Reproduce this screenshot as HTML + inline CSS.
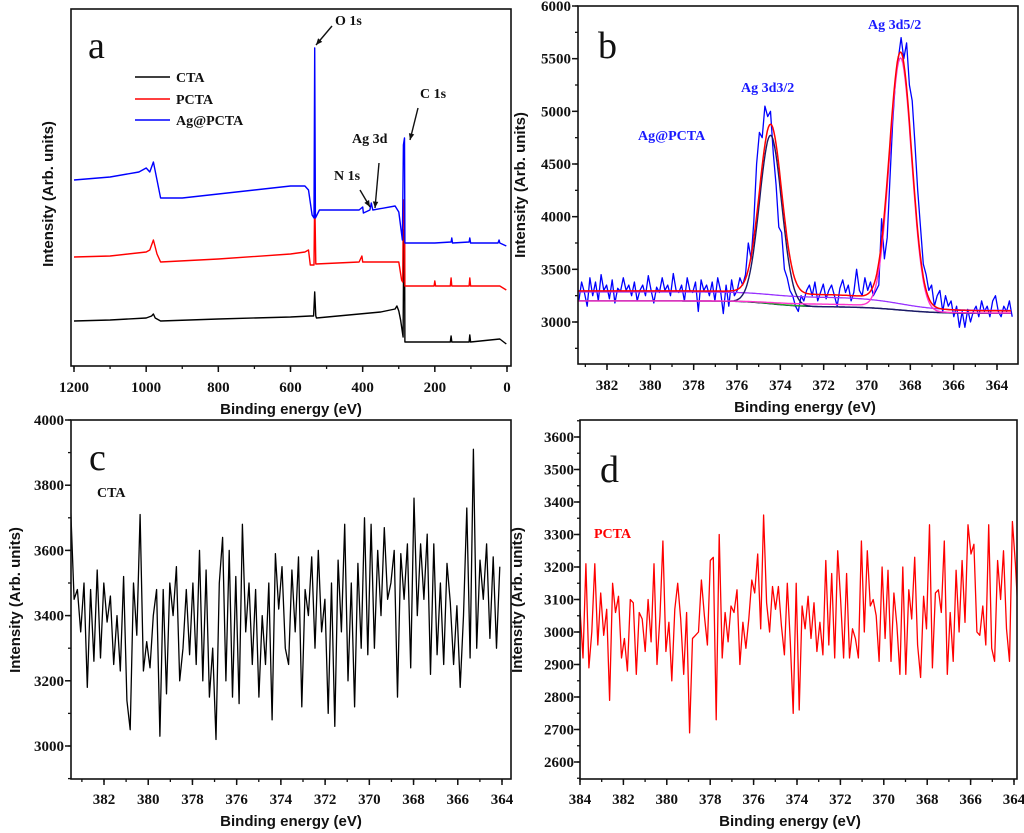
<!DOCTYPE html>
<html><head><meta charset="utf-8"><style>
html,body{margin:0;padding:0;background:#fff;}
svg{display:block;}
.tk{font-family:"Liberation Serif",serif;font-weight:bold;font-size:15px;fill:#111;}
.at{font-family:"Liberation Sans",sans-serif;font-weight:bold;font-size:15px;fill:#111;}
.an{font-family:"Liberation Serif",serif;font-weight:bold;font-size:14px;}
.pl{font-family:"Liberation Serif",serif;font-size:38px;fill:#111;}
</style></head><body>
<svg id="fig" width="1024" height="833" viewBox="0 0 1024 833" xmlns="http://www.w3.org/2000/svg"></svg>
<script>
// ---------- Panel a data (survey, arbitrary intensity units) ----------
const aBlueE=[1200,1100,1020,1000,990,980,970,960,900,800,700,600,560,550,540,535,533,531,520,410,400,398,380,376,372,310,300,290,287,284,283,200,155,153,151,105,103,101,25,22,20,2];
const aBlueI=[186,189,194,198,194,204,186,168,168,172,176,180,180,176,151,148,318,148,156,156,159,153,156,163,156,160,154,126,221,228,123,123,124,128,123,124,128,123,123,126,123,120];
const aRedE=[1200,1100,1000,990,980,970,960,800,600,560,550,545,535,533,530,410,402,400,398,300,292,289,287,284,283,202,200,198,157,155,153,105,103,101,20,2];
const aRedI=[109,110,114,116,126,112,104,107,112,114,116,101,101,171,102,104,110,104,104,104,86,84,166,166,80,80,85,80,80,88,80,80,88,80,80,76];
const aBlackE=[1200,1100,1000,985,980,975,960,800,600,545,536,533,530,528,350,310,305,300,295,288,286,284,283,157,155,153,105,103,101,20,2];
const aBlackI=[45,46,48,50,52,48,45,47,49,50,50,74,50,48,54,57,60,55,46,29,136,136,24,24,30,24,24,31,24,27,22];
const aTicks=[1200,1000,800,600,400,200,0];
// ---------- Panel b data ----------
const bRaw=[3200,3380,3280,3150,3420,3250,3380,3200,3450,3300,3350,3220,3400,3180,3320,3290,3420,3300,3350,3250,3380,3200,3300,3350,3250,3440,3300,3180,3330,3280,3420,3300,3350,3250,3460,3300,3280,3350,3200,3420,3300,3280,3380,3100,3400,3300,3350,3250,3380,3200,3420,3300,3080,3350,3150,3400,3250,3300,3420,
3350,3450,3750,3600,3950,4500,4800,4750,5050,4950,5000,4600,4300,3900,3850,3500,3420,3300,3250,3150,3100,3250,3200,
3300,3350,3250,3380,3200,3280,3360,3220,3300,3350,3250,3150,3320,3400,3280,3350,3200,3280,3500,3300,3250,3420,3300,3380,3250,
3300,3350,3980,3600,3800,4350,4900,5300,5500,5700,5500,5650,5250,5100,4700,4250,3900,3550,3450,3300,3350,3150,3250,3300,3100,3250,3150,3200,3050,
3150,2950,3100,2950,3120,3000,3100,3150,3050,3200,3100,3150,3050,3200,3250,3100,3050,3150,3100,3200,3050];
const bPeakCenters=[374.45,368.45];
const bPeakHeights=[1600,2380];
const bPeakFwhm=[1.2,1.2];
const bBgPurple=[3285,3235,3110]; // left, mid, right levels
const bBgNavy=[3200,3145,3082];
const bYTicks=[3000,3500,4000,4500,5000,5500,6000];
const bXTicks=[382,380,378,376,374,372,370,368,366,364];
// ---------- Panel c data ----------
const cVals=[3720,3450,3480,3350,3500,3180,3480,3260,3540,3270,3500,3380,3460,3250,3400,3230,3520,3140,3050,3500,3340,3710,3230,3320,3240,3400,3480,3030,3480,3160,3500,3400,3550,3200,3300,3480,3280,3500,3250,3600,3200,3540,3150,3300,3020,3500,3640,3200,3600,3150,3520,3130,3680,3350,3500,3250,3480,3150,3400,3250,3500,3080,3590,3420,3550,3300,3250,3540,3350,3580,3120,3480,3400,3580,3300,3600,3350,3450,3100,3500,3060,3570,3350,3680,3200,3500,3120,3560,3300,3700,3280,3680,3300,3600,3400,3670,3450,3500,3600,3150,3590,3450,3620,3240,3760,3400,3620,3450,3650,3220,3620,3280,3500,3250,3560,3440,3250,3430,3180,3400,3730,3270,3910,3300,3570,3450,3620,3330,3580,3300,3550];
const cYTicks=[3000,3200,3400,3600,3800,4000];
const cXTicks=[382,380,378,376,374,372,370,368,366,364];
// ---------- Panel d data ----------
const dVals=[3070,2920,3210,2890,3000,3210,2960,3120,2990,3070,2790,3150,3060,3110,2920,2980,2880,3100,3090,2870,3060,3040,2940,3100,2970,3210,2900,3050,3280,2940,3030,2850,3070,3150,3040,2870,3060,2690,2980,2990,3000,3160,3050,2960,3220,3230,2730,3300,2920,3060,2970,3080,3060,3130,2900,3030,2950,3040,3160,3120,3240,3010,3360,3090,3000,3140,3070,3140,3020,2930,3150,2970,2750,3150,2760,3080,3010,3110,2980,3090,2940,3030,2930,3220,2960,3180,2920,3250,3100,2920,3180,2920,3010,2980,2920,3280,3000,3250,3080,3100,3050,2910,3200,2980,3190,2910,3120,3020,2870,3200,2870,3130,3040,3230,2960,2860,3110,3010,3330,2890,3120,3130,3060,3280,2870,3060,2910,3190,3000,3220,3030,3330,3240,3270,3000,2990,3080,2960,3330,2950,2910,3220,3100,3250,3010,2910,3340,3210,3040];
const dYTicks=[2600,2700,2800,2900,3000,3100,3200,3300,3400,3500,3600];
const dXTicks=[384,382,380,378,376,374,372,370,368,366,364];

const NS="http://www.w3.org/2000/svg";
const svg=document.getElementById('fig');
function mk(tag,attrs,parent){const e=document.createElementNS(NS,tag);for(const k in attrs)e.setAttribute(k,attrs[k]);(parent||svg).appendChild(e);return e;}
function lin(d0,d1,r0,r1){return v=>r0+(v-d0)*(r1-r0)/(d1-d0);}
function txt(x,y,s,cls,anchor,parent,name,extra){const t=mk('text',Object.assign({x:x,y:y,class:cls,'text-anchor':anchor||'start'},extra||{}),parent);t.textContent=s;


return t;}
function path(pts,color,w,parent,name){const d=pts.map((p,i)=>(i?'L':'M')+p[0].toFixed(1)+' '+p[1].toFixed(1)).join('');const p=mk('path',{d:d,fill:'none',stroke:color,'stroke-width':w,'stroke-linejoin':'round'},parent);


return p;}
function frame(g,x0,y0,x1,y1,name){const r=mk('rect',{x:x0,y:y0,width:x1-x0,height:y1-y0,fill:'none',stroke:'#111','stroke-width':1.6},g);

}
function xAxis(g,X,y1,ticks,minorStep,dmin,dmax,labelY){
  for(let v=Math.ceil(Math.min(dmin,dmax)/minorStep)*minorStep;v<=Math.max(dmin,dmax)+1e-9;v+=minorStep){const x=X(v);mk('line',{x1:x,x2:x,y1:y1,y2:y1+3,stroke:'#111','stroke-width':1.3},g);}
  ticks.forEach(v=>{const x=X(v);mk('line',{x1:x,x2:x,y1:y1,y2:y1+6,stroke:'#111','stroke-width':1.5},g);txt(x,labelY,String(v),'tk','middle',g,'x-tick-label');});
}
function yAxis(g,Y,x0,ticks,minorStep,dmin,dmax,labelX){
  for(let v=Math.ceil(dmin/minorStep)*minorStep;v<=dmax+1e-9;v+=minorStep){const y=Y(v);mk('line',{x1:x0,x2:x0-3,y1:y,y2:y,stroke:'#111','stroke-width':1.3},g);}
  ticks.forEach(v=>{const y=Y(v);mk('line',{x1:x0,x2:x0-6,y1:y,y2:y,stroke:'#111','stroke-width':1.5},g);txt(labelX,y+5,String(v),'tk','end',g,'y-tick-label');});
}
function ylabel(g,x,y){const t=txt(x,y,'Intensity (Arb. units)','at','middle',g,'y-axis-title',{transform:`rotate(-90 ${x} ${y})`});}
function group(name){const g=mk('g',{});return g;}

// ===== Panel a =====
(function(){
const g=group('panel-a');
const X=lin(1200,0,74,507), Y=lin(0,357,366,9);
const clip=mk('clipPath',{id:'ca'},g);mk('rect',{x:71,y:9,width:440,height:357},clip);
const lg=mk('g',{'clip-path':'url(#ca)'},g);
path(aBlackE.map((e,i)=>[X(e),Y(aBlackI[i])]),'#000',1.4,lg,'cta-survey-line');
path(aRedE.map((e,i)=>[X(e),Y(aRedI[i])]),'#f00',1.4,lg,'pcta-survey-line');
path(aBlueE.map((e,i)=>[X(e),Y(aBlueI[i])]),'#00f',1.4,lg,'ag-pcta-survey-line');
frame(g,71,9,511,366,'plot-frame-a');
xAxis(g,X,366,aTicks,100,0,1200,392);
txt(291,414,'Binding energy (eV)','at','middle',g,'x-axis-title');
ylabel(g,53,194);
txt(88,58,'a','pl','start',g,'panel-label-a');
const leg=[['CTA','#000',77],['PCTA','#f00',99],['Ag@PCTA','#00f',120]];
leg.forEach(l=>{const ln=mk('line',{x1:135,x2:170,y1:l[2],y2:l[2],stroke:l[1],'stroke-width':1.6},g);txt(176,l[2]+5,l[0],'an','start',g,'legend-entry',{fill:'#111','font-size':'15px'});});
const arr=[['O 1s',335,25,[332,26,316,45]],['C 1s',420,98,[418,108,410,140]],['Ag 3d',352,143,[379,163,375,208]],['N 1s',334,180,[360,190,370,207]]];
arr.forEach(a=>{txt(a[1],a[2],a[0],'an','start',g,'peak-annotation',{fill:'#111'});
 const [x1,y1,x2,y2]=a[3];mk('line',{x1:x1,y1:y1,x2:x2,y2:y2,stroke:'#111','stroke-width':1.4},g);
 const ang=Math.atan2(y2-y1,x2-x1),L=7;const p1=[x2-L*Math.cos(ang-0.4),y2-L*Math.sin(ang-0.4)],p2=[x2-L*Math.cos(ang+0.4),y2-L*Math.sin(ang+0.4)];
 mk('polygon',{points:`${x2},${y2} ${p1[0]},${p1[1]} ${p2[0]},${p2[1]}`,fill:'#111'},g);});
})();

// ===== Panel b =====
(function(){
const g=group('panel-b');
const X=lin(382,364,607,997), Y=lin(3000,6000,322,6);
const E0=383.5,E1=363.3;
const clip=mk('clipPath',{id:'cb'},g);mk('rect',{x:578,y:6,width:440,height:358},clip);
const lg=mk('g',{'clip-path':'url(#cb)'},g);
const gauss=(e,k)=>bPeakHeights[k]*Math.exp(-4*Math.LN2*Math.pow((e-bPeakCenters[k])/bPeakFwhm[k],2));
const step=(e,lv)=>{const s1=1/(1+Math.exp((e-bPeakCenters[0])/0.7)),s2=1/(1+Math.exp((e-bPeakCenters[1])/0.9));return lv[0]+(lv[1]-lv[0])*s1+(lv[2]-lv[1])*s2;};
const es=[];for(let e=E0;e>=E1;e-=0.05)es.push(e);
const rawPts=bRaw.map((v,i)=>[X(383.3-i*(383.3-363.3)/(bRaw.length-1)),Y(v)]);
path(rawPts,'#0000ff',1.3,lg,'ag-pcta-raw-line');
path(es.map(e=>[X(e),Y(step(e,bBgPurple))]),'#9933ff',1.3,lg,'background-purple');
path(es.map(e=>[X(e),Y(step(e,bBgNavy))]),'#1a1a66',1.3,lg,'background-navy');
path(es.filter(e=>e<=376&&e>=372.6).map(e=>[X(e),Y(step(e,bBgNavy)+3)]),'#22aa22',1.3,lg,'background-green');
path(es.map(e=>[X(e),Y(step(e,bBgNavy)+gauss(e,0))]),'#1a1a66',1.4,lg,'fit-3d3-2');
path(es.map(e=>[X(e),Y(step(e,[3200,3170,3085])+gauss(e,1))]),'#ff33cc',1.4,lg,'fit-3d5-2');
path(es.map(e=>[X(e),Y(step(e,[3295,3262,3105])+gauss(e,0)+gauss(e,1))]),'#ff0000',1.5,lg,'fit-envelope');
frame(g,578,6,1018,364,'plot-frame-b');
xAxis(g,X,364,bXTicks,1,363.3,383.3,390);
yAxis(g,Y,578,bYTicks,250,2600,6000,571);
txt(805,412,'Binding energy (eV)','at','middle',g,'x-axis-title');
ylabel(g,525,185);
txt(598,58,'b','pl','start',g,'panel-label-b');
txt(638,140,'Ag@PCTA','an','start',g,'sample-label',{fill:'#1a1aff'});
txt(741,92,'Ag 3d3/2','an','start',g,'peak-label-3d3',{fill:'#1a1aff'});
txt(868,29,'Ag 3d5/2','an','start',g,'peak-label-3d5',{fill:'#1a1aff'});
})();

// ===== Panel c =====
(function(){
const g=group('panel-c');
const X=lin(382,364,104,502), Y=lin(3000,4000,746,420);
const clip=mk('clipPath',{id:'cc'},g);mk('rect',{x:71,y:420,width:440,height:359},clip);
const lg=mk('g',{'clip-path':'url(#cc)'},g);
path(cVals.map((v,i)=>[X(383.5-i*(383.5-364.1)/(cVals.length-1)),Y(v)]),'#000',1.3,lg,'cta-ag3d-line');
frame(g,71,420,511,779,'plot-frame-c');
xAxis(g,X,779,cXTicks,1,363.6,383.5,804);
yAxis(g,Y,71,cYTicks,100,2900,4000,64);
txt(291,826,'Binding energy (eV)','at','middle',g,'x-axis-title');
ylabel(g,20,600);
txt(89,470,'c','pl','start',g,'panel-label-c');
txt(97,497,'CTA','an','start',g,'sample-label',{fill:'#111'});
})();

// ===== Panel d =====
(function(){
const g=group('panel-d');
const X=lin(384,364,580,1014), Y=lin(2600,3600,762,437);
const clip=mk('clipPath',{id:'cd'},g);mk('rect',{x:580,y:420,width:437,height:359},clip);
const lg=mk('g',{'clip-path':'url(#cd)'},g);
path(dVals.map((v,i)=>[X(384-i*(384-363.8)/(dVals.length-1)),Y(v)]),'#ff0000',1.3,lg,'pcta-ag3d-line');
frame(g,580,420,1017,779,'plot-frame-d');
xAxis(g,X,779,dXTicks,1,363.5,384,804);
yAxis(g,Y,580,dYTicks,50,2550,3650,574);
txt(790,826,'Binding energy (eV)','at','middle',g,'x-axis-title');
ylabel(g,522,600);
txt(600,482,'d','pl','start',g,'panel-label-d');
txt(594,538,'PCTA','an','start',g,'sample-label',{fill:'#ff0000'});
})();
</script>
</body></html>
